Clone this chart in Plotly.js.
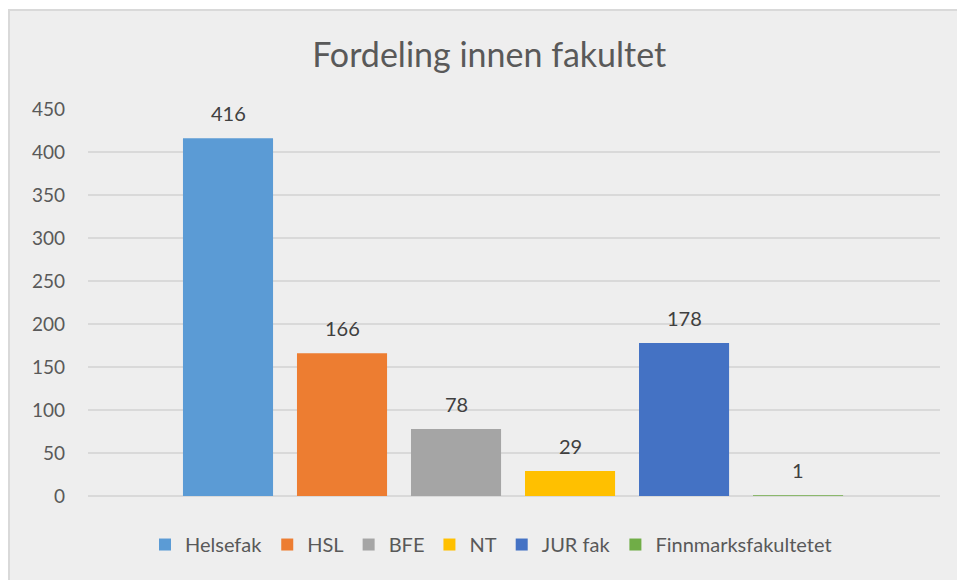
<!DOCTYPE html>
<html>
<head>
<meta charset="utf-8">
<script src="https://cdn.plot.ly/plotly-3.0.1.min.js"></script>
<style>
  html, body { margin: 0; padding: 0; background: #ffffff; }
  #wrap { position: absolute; left: 8px; top: 9px; border-left: 2px solid #D9D9D9; border-top: 2px solid #D9D9D9; width: 947px; height: 569px; background: #EEEEEE; }
  #chart { width: 947px; height: 569px; }
</style>
</head>
<body>
<div id="wrap"><div id="chart"></div></div>
<script>
const categories = ["Helsefak", "HSL", "BFE", "NT", "JUR fak", "Finnmarksfakultetet"];
const values = [416, 166, 78, 29, 178, 1];
const colors = ["#5B9BD5", "#ED7D31", "#A5A5A5", "#FFC000", "#4472C4", "#70AD47"];
const yTicks = [0, 50, 100, 150, 200, 250, 300, 350, 400, 450];
const titleText = "Fordeling innen fakultet";

const FONT = "Lato, 'Open Sans', sans-serif";

const traces = categories.map((c, i) => ({
  type: "bar",
  name: c,
  x: [c],
  y: [values[i]],
  marker: { color: colors[i] },
  hoverinfo: "none"
}));

const annotations = categories.map((c, i) => ({
  x: c,
  y: values[i],
  xref: "x",
  yref: "y",
  text: String(values[i]),
  showarrow: false,
  yanchor: "middle",
  yshift: 25,
  font: { family: FONT, size: 20, color: "#404040" }
}));

const layout = {
  width: 947,
  height: 569,
  paper_bgcolor: "rgba(0,0,0,0)",
  plot_bgcolor: "rgba(0,0,0,0)",
  margin: { l: 78, r: 17, t: 98, b: 84, autoexpand: false },
  barmode: "overlay",
  bargap: 0.21,
  showlegend: true,
  title: {
    text: titleText,
    x: 0.506,
    xanchor: "center",
    xref: "container",
    y: 0.922,
    yanchor: "middle",
    yref: "container",
    font: { family: FONT, size: 34, color: "#595959" }
  },
  xaxis: {
    type: "category",
    categoryorder: "array",
    categoryarray: categories,
    range: [-1.228, 6.245],
    showticklabels: false,
    showgrid: false,
    zeroline: false,
    showline: false,
    ticks: "",
    fixedrange: true
  },
  yaxis: {
    range: [0, 450],
    tickvals: yTicks,
    ticktext: yTicks.map(String),
    showgrid: true,
    gridcolor: "#D9D9D9",
    gridwidth: 1.5,
    zeroline: true,
    zerolinecolor: "#D9D9D9",
    zerolinewidth: 1.5,
    showline: false,
    ticks: "",
    ticklabelstandoff: 22,
    tickfont: { family: FONT, size: 19, color: "#595959" },
    fixedrange: true
  },
  legend: {
    orientation: "h",
    x: 0.473,
    xanchor: "center",
    y: -0.075,
    yanchor: "top",
    font: { family: FONT, size: 20, color: "#595959" },
    itemwidth: 30,
    bgcolor: "rgba(0,0,0,0)"
  },
  annotations: annotations
};

Plotly.newPlot("chart", traces, layout, { displayModeBar: false, staticPlot: true });
</script>
</body>
</html>
